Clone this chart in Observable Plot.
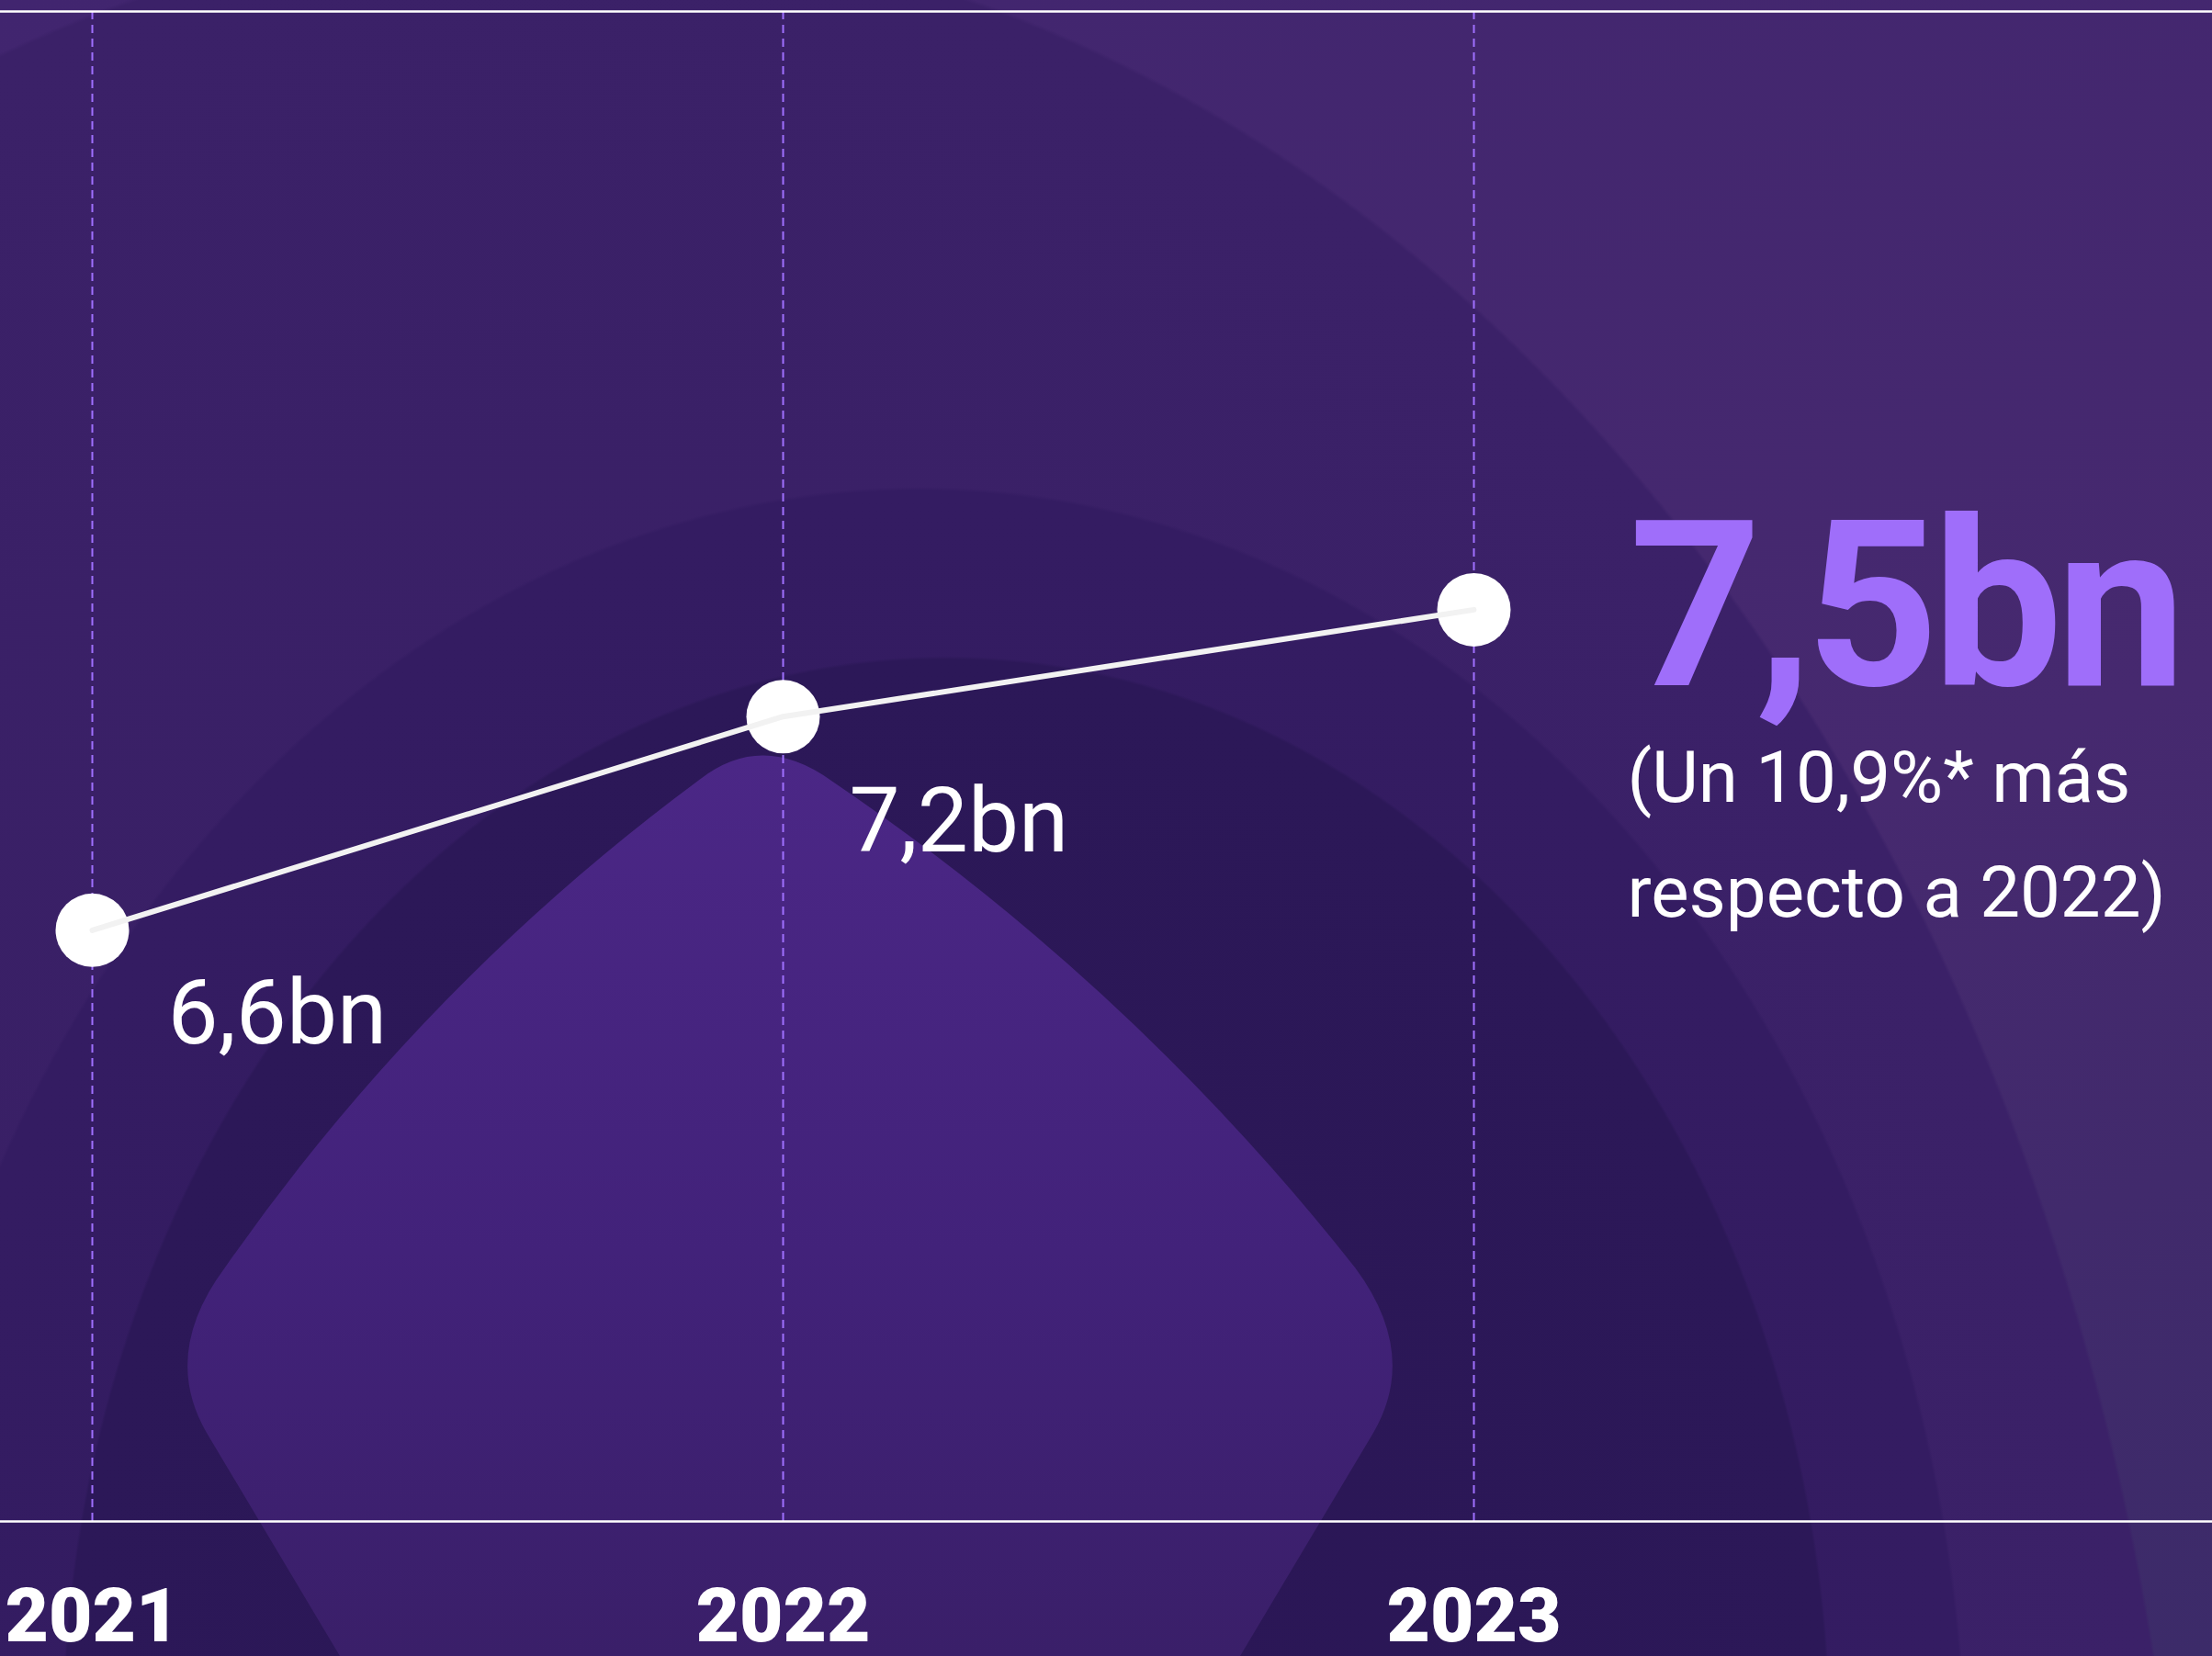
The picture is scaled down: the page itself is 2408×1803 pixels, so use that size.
<!DOCTYPE html>
<html>
<head>
<meta charset="utf-8">
<script src="https://cdn.jsdelivr.net/npm/d3@7"></script>
<script src="https://cdn.jsdelivr.net/npm/@observablehq/plot@0.6"></script>
<style>
  html, body { margin: 0; padding: 0; overflow: hidden; }
  #chart {
    width: 2408px; height: 1803px; position: relative;
    background:
      radial-gradient(ellipse 970px 1194px at 1030px 1900px, #2a1655 0%, #2c1858 99%, transparent 99.3%),
      radial-gradient(ellipse 1150px 1430px at 1000px 1950px, #321b5f 0%, #341c62 99%, transparent 99.3%),
      radial-gradient(ellipse 1800px 2400px at 600px 2300px, #371e64 0%, #3b2168 99%, transparent 99.2%),
      linear-gradient(160deg, #41256f 0%, #46296f 60%, #3c2b69 100%);
  }
  #chart svg { position: absolute; left: 0; top: 0; }
</style>
</head>
<body>
<div id="chart">
  <svg id="bg" width="2408" height="1803" aria-hidden="true">
    <defs>
      <linearGradient id="innerGrad" x1="0" y1="0" x2="0" y2="1">
        <stop offset="0" stop-color="#4b2786"/>
        <stop offset="0.55" stop-color="#42227a"/>
        <stop offset="1" stop-color="#3a1f69"/>
      </linearGradient>
    </defs>
    <path d="M 760 850 Q 829 795 905 850 Q 1231 1071 1475 1380 Q 1545 1474 1495 1560 L 1350 1803 L 370 1803 L 225 1560 Q 175 1474 245 1380 Q 459 1073 760 850 Z" fill="url(#innerGrad)"/>
  </svg>
</div>
<script>
// ---- data ----
const years = ["2021", "2022", "2023"];
const values = [6.6, 7.2, 7.5];
const valueLabels = ["6,6bn", "7,2bn", "7,5bn"];
const noteLines = ["(Un 10,9%* más", "respecto a 2022)"];
const yDomain = [4.94, 9.18];

const data = years.map((year, i) => ({ year, value: values[i], label: valueLabels[i] }));
const font = "Roboto, 'Liberation Sans', sans-serif";
const accent = "#9f6efa";

const chart = Plot.plot({
  width: 2408,
  height: 1803,
  marginTop: 12,
  marginBottom: 147,
  marginLeft: 0,
  marginRight: 0,
  style: { background: "transparent", color: "#fff", overflow: "visible" },
  x: { type: "point", domain: years, padding: 0.599, align: 0.111, label: null },
  y: { domain: yDomain, axis: null, label: null },
  marks: [
    Plot.ruleX(years, { x: d => d, stroke: "#a070ff", strokeWidth: 2, strokeDasharray: "9,6" }),
    Plot.ruleY(yDomain, { y: d => d, stroke: "#ffffff", strokeWidth: 2.5 }),
    Plot.dot(data, { x: "year", y: "value", r: 40, fill: "#ffffff" }),
    Plot.line(data, { x: "year", y: "value", stroke: "#f2f2f2", strokeWidth: 6 }),
    Plot.text(data.slice(0, 1), { x: "year", y: "value", text: "label", dx: 82, dy: 123,
      textAnchor: "start", lineAnchor: "bottom", fill: "#ffffff", fontSize: 98, fontFamily: font }),
    Plot.text(data.slice(1, 2), { x: "year", y: "value", text: "label", dx: 72, dy: 147,
      textAnchor: "start", lineAnchor: "bottom", fill: "#ffffff", fontSize: 98, fontFamily: font }),
    Plot.text(data.slice(2), { x: "year", y: "value", text: "label", dx: 169, dy: 82,
      textAnchor: "start", lineAnchor: "bottom", fill: accent, fontSize: 252, fontWeight: 700, fontFamily: font }),
    Plot.text(data.slice(2), { x: "year", y: "value", text: () => noteLines.join("\n"), dx: 167, dy: 121,
      textAnchor: "start", lineAnchor: "top", lineHeight: 1.6, fill: "#ffffff", fontSize: 78, fontFamily: font }),
    Plot.axisX({ tickSize: 0, tickPadding: 72, fontSize: 82, fontWeight: 900, fontFamily: font, fill: "#ffffff", label: null })
  ]
});

d3.select(chart).selectAll(`g[fill="${accent}"] text`).style("letter-spacing", "-7px");
document.getElementById("chart").appendChild(chart);
</script>
</body>
</html>
